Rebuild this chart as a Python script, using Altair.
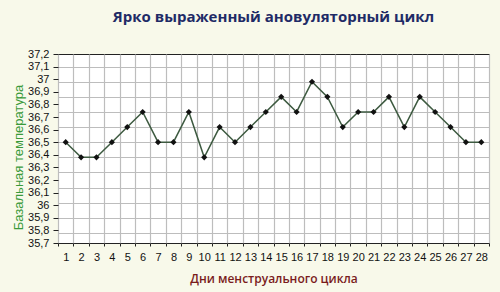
import altair as alt
import pandas as pd

# ---- data ----
days = list(range(1, 29))
temps = [36.50, 36.38, 36.38, 36.50, 36.62, 36.74, 36.50, 36.50, 36.74, 36.38,
         36.62, 36.50, 36.62, 36.74, 36.86, 36.74, 36.98, 36.86, 36.62, 36.74,
         36.74, 36.86, 36.62, 36.86, 36.74, 36.62, 36.50, 36.50]
y_tick_values = [35.7, 35.8, 35.9, 36.0, 36.1, 36.2, 36.3, 36.4, 36.5, 36.6,
                 36.7, 36.8, 36.9, 37.0, 37.1, 37.2]
y_grid_values = [35.78, 35.90, 36.02, 36.14, 36.26, 36.38, 36.50, 36.62,
                 36.74, 36.86, 36.98, 37.10]
x_label_values = days
x_grid_values = [d - 0.5 for d in days] + [28.5]

title_text = "Ярко выраженный ановуляторный цикл"
x_title = "Дни  менструального цикла"
y_title = "Базальная температура"

df = pd.DataFrame({"day": days, "temp": temps})

xs = alt.Scale(domain=[0.5, 28.5], nice=False, zero=False)
ys = alt.Scale(domain=[35.7, 37.2], nice=False, zero=False)

GRID = "#bdbdbd"
base = alt.Chart(df)

line = base.mark_line(color="#3d5a40", strokeWidth=1.5).encode(
    x=alt.X("day:Q", scale=xs, axis=alt.Axis(
        orient="bottom", values=x_grid_values, grid=True, gridColor=GRID,
        gridWidth=1.2, ticks=True, tickSize=3, tickColor="#222",
        labels=False, domain=False, title=None)),
    y=alt.Y("temp:Q", scale=ys, axis=alt.Axis(
        orient="left", values=y_grid_values, grid=True, gridColor=GRID,
        gridWidth=1.2, ticks=False, labels=False, domain=False, title=None)),
)

points = base.mark_point(shape="diamond", filled=True, color="#111111",
                         size=38, opacity=1).encode(
    x=alt.X("day:Q", scale=xs, axis=alt.Axis(
        orient="bottom", values=x_label_values, grid=False, ticks=False,
        domain=False, labelFont="Liberation Sans", labelFontSize=11,
        labelColor="#111", labelPadding=8, labelFlush=False, labelOverlap=False,
        title=x_title, titleFont="Open Sans", titleFontSize=12,
        titleFontWeight=600, titleColor="#7a1c1c", titleY=30,
        titleBaseline="top")),
    y=alt.Y("temp:Q", scale=ys, axis=alt.Axis(
        orient="left", values=y_tick_values, grid=False, ticks=True,
        tickSize=5, tickColor="#222", domain=False,
        labelExpr="replace(format(datum.value, '.1~f'), '.', ',')",
        labelFont="Liberation Sans", labelFontSize=11, labelColor="#111",
        labelPadding=4, labelFlush=False, labelOverlap=False,
        title=y_title, titleFont="Liberation Sans", titleFontSize=13,
        titleFontWeight="normal", titleColor="#3a9a3a", titleAngle=270,
        titleX=-36, titleY=103, titleBaseline="alphabetic")),
)

chart = alt.layer(line, points).resolve_axis(
    x="independent", y="independent"
).properties(
    width=431, height=189,
    title=alt.TitleParams(title_text, font="Open Sans", fontSize=15,
                          fontWeight="bold", color="#1f2b66",
                          anchor="middle", baseline="alphabetic", offset=11),
    background="#f8f9ea",
    padding={"left": 58, "top": 54, "right": 11, "bottom": 49},
    autosize="none",
).configure_view(fill="white", stroke="#222222", strokeWidth=1)

chart.save("out.html", embed_options={"renderer": "svg", "actions": False})
